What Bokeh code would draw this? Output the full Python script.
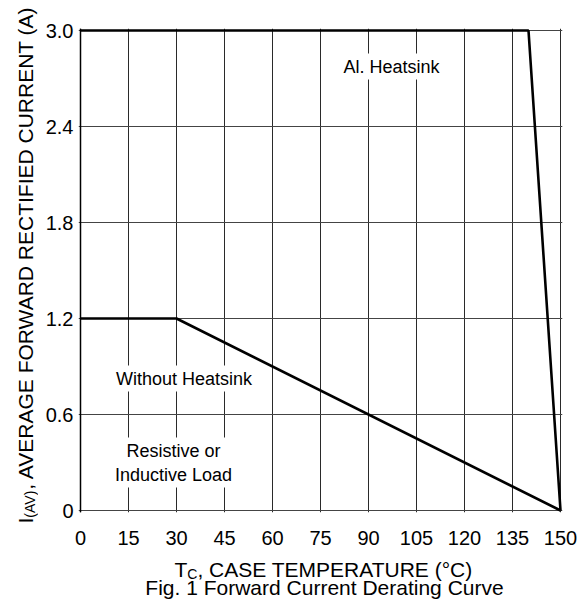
import math
from bokeh.plotting import figure
from bokeh.layouts import row, column
from bokeh.models import Range1d, FixedTicker, PrintfTickFormatter, Label, Span
from bokeh.embed import file_html
from bokeh.resources import INLINE

# ---------------- data ----------------
temp_ticks = [0, 15, 30, 45, 60, 75, 90, 105, 120, 135, 150]
current_ticks = [0, 0.6, 1.2, 1.8, 2.4, 3.0]

al_temp = [0, 140, 150]
al_current = [3.0, 3.0, 0.0]

no_temp = [0, 30, 150]
no_current = [1.2, 1.2, 0.0]

label_al = "Al. Heatsink"
label_no = "Without Heatsink"
label_load = "Resistive or\nInductive Load"
caption = "Fig. 1 Forward Current Derating Curve"

FONT = "Liberation Sans"
PAGE_W, PAGE_H = 579, 608

# ---------------- layout helpers ----------------
FR_L, FR_T, FR_W, FR_H = 80.0, 30.0, 480.0, 480.0
PAD = 2  # px of extra frame around the data area so edge lines are not clipped
XPX = FR_W / 150.0
YPX = FR_H / 3.0


def px2x(px):
    return (px - FR_L) / XPX


def py2y(py):
    return (FR_T + FR_H - py) / YPX


# approximate Arial/Liberation Sans advance widths (em)
W = {c: 0.667 for c in "ABEKPSVXY"}
W.update({c: 0.722 for c in "CDHNRU"})
W.update({c: 0.778 for c in "GOQ"})
W.update({"F": 0.611, "T": 0.611, "Z": 0.611, "L": 0.556, "J": 0.5, "I": 0.278,
          "M": 0.833, "W": 0.944, " ": 0.278, ",": 0.278, ".": 0.278,
          "(": 0.333, ")": 0.333, "\u00b0": 0.4})


def tw(s, size):
    return sum(W.get(c, 0.556) for c in s) * size


LEFT_W = 38
MAIN_W = PAGE_W - LEFT_W
MAIN_H = 554
BOT_H = PAGE_H - MAIN_H

F_LEFT = FR_L - PAD                      # page x of main frame left edge
B_LEFT = int(F_LEFT - LEFT_W)            # main left border
F_W = int(FR_W + 2 * PAD)
B_RIGHT = int(MAIN_W - B_LEFT - F_W)
F_TOP = int(FR_T - PAD)
F_H = int(FR_H + 2 * PAD)
B_BOT = int(MAIN_H - F_TOP - F_H)


def text_fig(fw, fh, bl, br, x0, x1, y_top, y_bot):
    f = figure(frame_width=fw, frame_height=fh, title=None,
               x_range=Range1d(x0, x1),
               y_range=Range1d(PAGE_H - y_bot, PAGE_H - y_top),
               min_border_left=bl, min_border_right=br,
               min_border_top=0, min_border_bottom=0,
               x_axis_type=None, y_axis_type=None,
               output_backend="svg", toolbar_location=None)
    f.outline_line_color = None
    f.background_fill_color = "white"
    f.border_fill_color = "white"
    return f


# ---------------- main plot ----------------
p = figure(frame_width=F_W, frame_height=F_H, title=None,
           min_border_left=B_LEFT, min_border_right=B_RIGHT,
           min_border_top=F_TOP, min_border_bottom=B_BOT,
           x_range=Range1d(-PAD / XPX, 150 + PAD / XPX),
           y_range=Range1d(-PAD / YPX, 3.0 + PAD / YPX),
           output_backend="svg", toolbar_location=None)

p.background_fill_color = "white"
p.border_fill_color = "white"
p.outline_line_color = None

p.xaxis.ticker = FixedTicker(ticks=temp_ticks)
p.yaxis.ticker = FixedTicker(ticks=current_ticks)
p.yaxis.formatter = PrintfTickFormatter(format="%.1f")
p.yaxis.major_label_overrides = {0: "0"}
for ax in (p.xaxis[0], p.yaxis[0]):
    ax.major_tick_line_color = None
    ax.minor_tick_line_color = None
    ax.major_tick_out = 0
    ax.major_tick_in = 0
    ax.axis_line_color = None
    ax.major_label_text_font = FONT
    ax.major_label_text_font_size = "20px"
    ax.major_label_text_color = "black"
p.xaxis.major_label_standoff = 18
p.yaxis.major_label_standoff = 5

p.xgrid.grid_line_color = "#2a2a2a"
p.xgrid.grid_line_width = 1
p.ygrid.grid_line_color = "#444444"
p.ygrid.grid_line_width = 1

# left boundary line (axis at x = 0)
p.add_layout(Span(location=0, dimension="height", line_color="black", line_width=1.5))

p.line(al_temp, al_current, line_color="black", line_width=2.6)
p.line(no_temp, no_current, line_color="black", line_width=2.6)


def box_label(text, px, py):
    p.add_layout(Label(x=px2x(px), y=py2y(py), text=text,
                       text_font=FONT, text_font_size="18px", text_color="black",
                       text_align="center", text_baseline="middle",
                       background_fill_color="white", padding=3))


box_label(label_al, 391, 66)
box_label(label_no, 183.5, 378)
box_label(label_load, 173, 462)

BIG, SUB = 21, 14

# ---------------- bottom texts (page coordinates) ----------------
bot = text_fig(F_W, BOT_H, B_LEFT, B_RIGHT, F_LEFT, F_LEFT + F_W, MAIN_H, PAGE_H)
x0 = 174.0
xb = 569.0
parts = [("T", BIG, 0), ("C", SUB, 4.5), (", CASE TEMPERATURE (\u00b0C)", BIG, 0)]
cx = x0
for txt, sz, off in parts:
    bot.add_layout(Label(x=cx, y=PAGE_H - (xb + off), text=txt,
                         text_font=FONT, text_font_size=f"{sz}px", text_color="black",
                         text_align="left", text_baseline="alphabetic"))
    cx += tw(txt, sz)

bot.add_layout(Label(x=324, y=PAGE_H - 587, text=caption,
                     text_font=FONT, text_font_size="21px", text_color="black",
                     text_align="center", text_baseline="alphabetic"))

# ---------------- left (rotated) title (page coordinates) ----------------
left = text_fig(LEFT_W, PAGE_H, 0, 0, 0, LEFT_W, 0, PAGE_H)
yb_x = 25.0
cy = 523.0
yparts = [("I", BIG, 0), ("(AV)", SUB, 4.5),
          (", AVERAGE FORWARD RECTIFIED CURRENT (A)", BIG, 0)]
for txt, sz, off in yparts:
    left.add_layout(Label(x=yb_x + off, y=PAGE_H - cy, text=txt, angle=math.pi / 2,
                          text_font=FONT, text_font_size=f"{sz}px", text_color="black",
                          text_align="left", text_baseline="alphabetic"))
    cy -= tw(txt, sz)

layout = row(left, column(p, bot))
open("out.html", "w").write(file_html(layout, INLINE))
